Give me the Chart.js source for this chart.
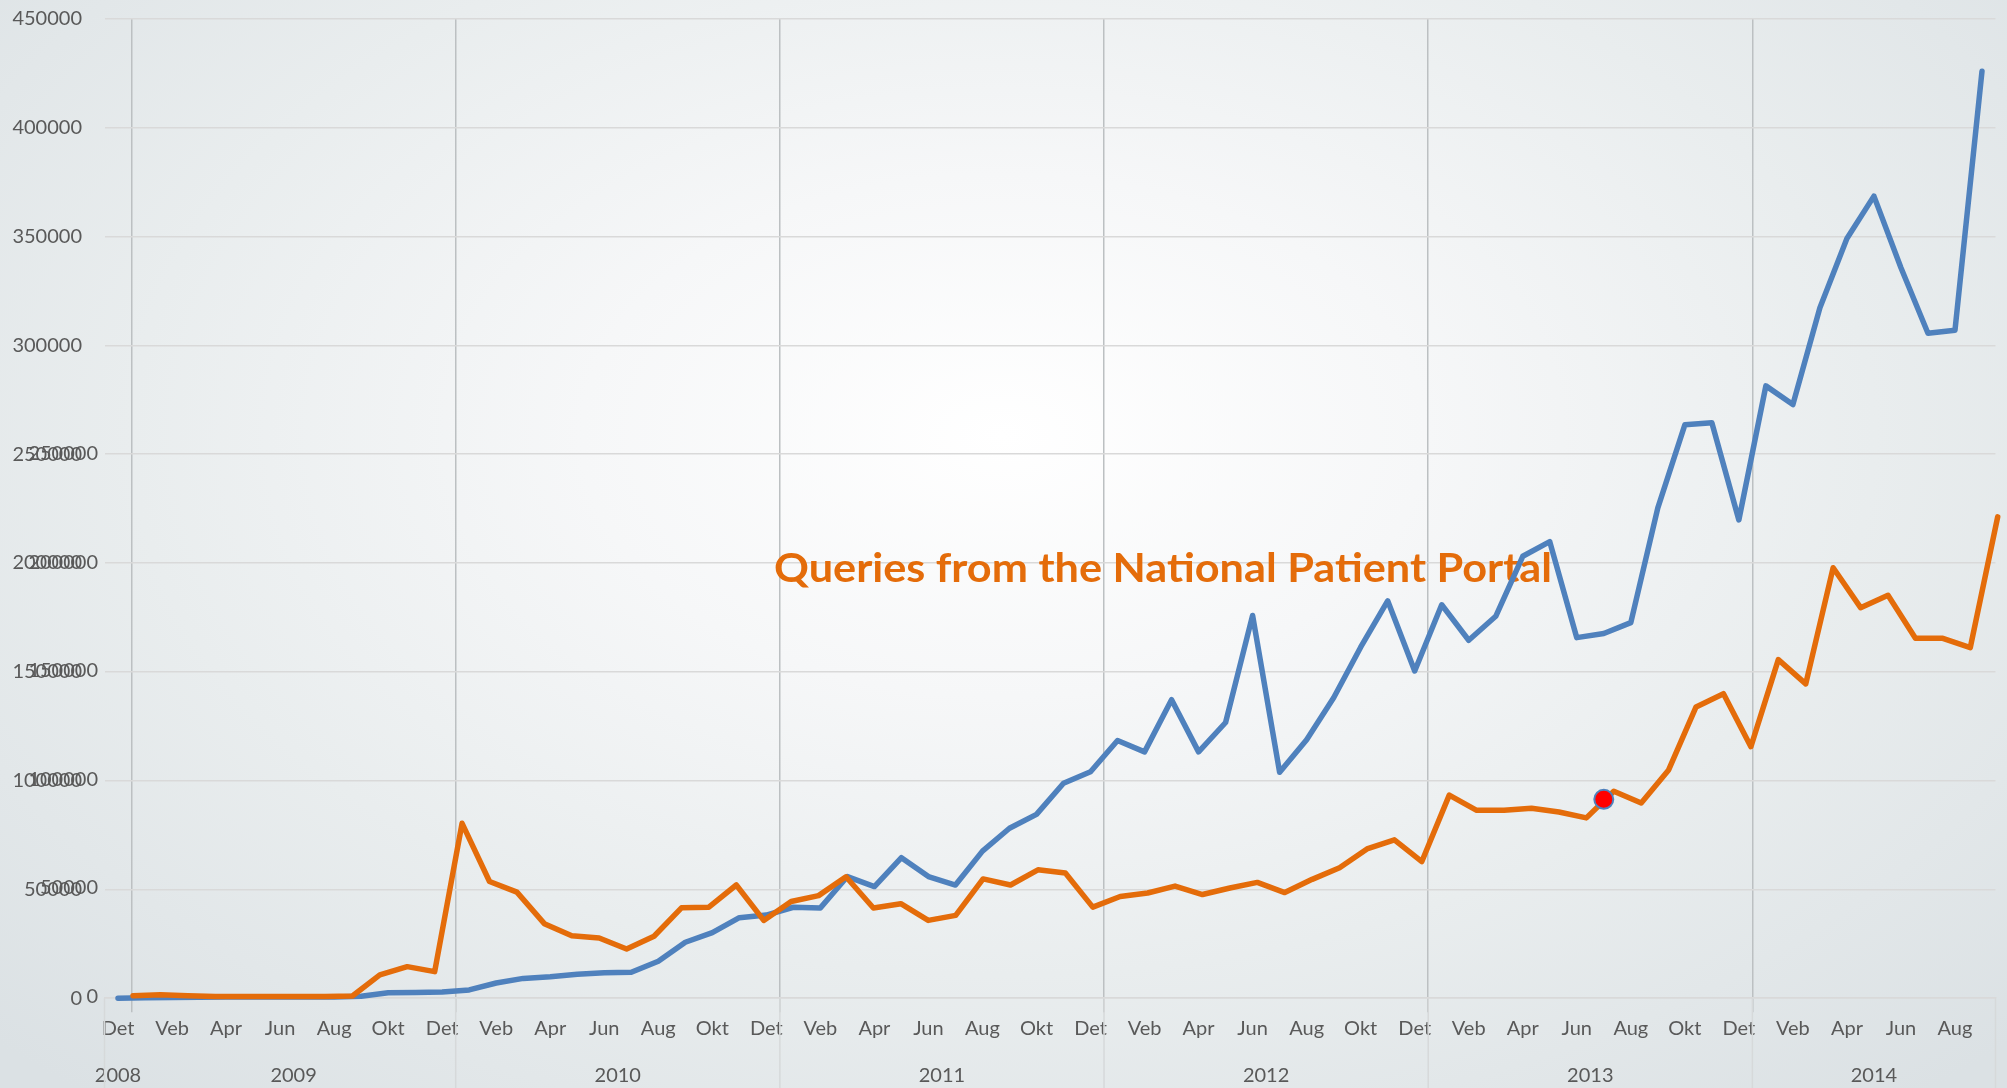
<!DOCTYPE html>
<html>
<head>
<meta charset="utf-8">
<script src="https://cdn.jsdelivr.net/npm/chart.js@4.4.1/dist/chart.umd.min.js"></script>
<style>
  html, body { margin: 0; padding: 0; width: 2007px; height: 1088px; overflow: hidden; }
  body {
    background: radial-gradient(ellipse 70% 80% at 50% 40%, #ffffff 0%, #f6f7f8 30%, #e9edee 62%, #dbe1e4 100%);
  }
  canvas { display: block; }
</style>
</head>
<body>
<canvas id="c" width="2007" height="1088"></canvas>
<script>
// ---------- DATA ----------
const monthCycle = ['Det', '', 'Veb', '', 'Apr', '', 'Jun', '', 'Aug', '', 'Okt', ''];
const categories = Array.from({ length: 70 }, (_, i) => monthCycle[i % 12]); // Dec 2008 .. Sep 2014
const years = ['2008', '2009', '2010', '2011', '2012', '2013', '2014'];
const monthsInYear = [1, 12, 12, 12, 12, 12, 9];

// blue series (70 months, Dec 2008 .. Sep 2014)
const totalQueries = [
  0, 200, 300, 400, 500, 500, 600, 500, 600, 900,
  2500, 2600, 2800, 3800, 7000, 9100, 9900, 11000, 11700, 11900,
  17000, 25700, 30100, 37000, 38200, 41800, 41500, 55900, 51300, 64600,
  55900, 52000, 67600, 78100, 84500, 98800, 104100, 118400, 113200, 137200,
  113200, 126700, 175900, 103800, 118800, 138100, 161300, 182600, 150400, 180800,
  164500, 175500, 203100, 209800, 165700, 167600, 172600, 225300, 263500, 264500,
  219800, 281400, 272800, 317300, 349100, 368600, 335700, 305600, 307000, 426000
];

// orange series (69 points, separate overlaid chart)
const portalQueries = [
  300, 800, 300, 0, 0, 0, 0, 0, 200, 9900,
  13700, 11400, 79700, 52900, 48000, 33500, 27900, 26900, 21800, 27700,
  40800, 41100, 51300, 35000, 43700, 46400, 55100, 40700, 42700, 35000,
  37300, 54100, 51300, 58300, 56800, 41100, 46000, 47600, 50800, 46900,
  49900, 52500, 47800, 53900, 59200, 67900, 72100, 62100, 92700, 85700,
  85700, 86600, 84900, 82200, 94500, 89100, 104300, 133300, 139400, 115000,
  155100, 143900, 197400, 179000, 184700, 164900, 164900, 160600, 220800
];

// highlighted point
const markerIndex = 55;
const markerValue = 91400;

const yTickValues = [0, 50000, 100000, 150000, 200000, 250000, 300000, 350000, 400000, 450000];
const y2TickValues = [0, 50000, 100000, 150000, 200000, 250000];
const titleText = 'Queries from the National Patient Portal';

// ---------- derived tables ----------
const yearStarts = [];
let acc = 0;
monthsInYear.forEach(n => { yearStarts.push(acc); acc += n; });
const yearCenters = monthsInYear.map((n, k) => yearStarts[k] + (n - 1) / 2);
const yearGridIdx = yearStarts.slice(1);
const yearBounds = [-0.5].concat(yearStarts.slice(2).map(s => s - 0.5), [acc - 0.5]);
const orangeData = portalQueries.map((v, i) => ({ x: i, y: v }));
const markerData = categories.map((_, i) => (i === markerIndex ? markerValue : null));

const textColor = '#595959';
const tickFont = { family: 'Lato', size: 20 };

const decor = {
  id: 'decor',
  beforeDatasetsDraw(chart) {
    const ctx = chart.ctx;
    ctx.save();
    ctx.font = 'bold 41px Lato';
    const w = ctx.measureText(titleText).width;
    ctx.translate(1163, 582);
    ctx.scale(778 / w, 1);
    ctx.fillStyle = '#e46c0a';
    ctx.textAlign = 'center';
    ctx.textBaseline = 'alphabetic';
    ctx.fillText(titleText, 0, 0);
    ctx.restore();
  },
  afterDraw(chart) {
    const ctx = chart.ctx;
    const xs = chart.scales.xYear;
    const top = chart.chartArea.bottom;
    ctx.save();
    ctx.strokeStyle = '#d6d9da';
    ctx.lineWidth = 1.5;
    yearBounds.forEach(b => {
      const px = xs.getPixelForValue(b);
      ctx.beginPath();
      ctx.moveTo(px, top);
      ctx.lineTo(px, chart.height);
      ctx.stroke();
    });
    // labels of the second (overlaid) value axis
    const y2 = chart.scales.y2;
    ctx.fillStyle = textColor;
    ctx.font = '20px Lato';
    ctx.textAlign = 'right';
    ctx.textBaseline = 'middle';
    y2TickValues.forEach(v => {
      ctx.fillText(String(v), chart.chartArea.left - 6.5, y2.getPixelForValue(v));
    });
    ctx.restore();
  }
};

function draw() {
  new Chart(document.getElementById('c'), {
    type: 'line',
    data: {
      labels: categories,
      datasets: [
        {
          label: 'Marker', data: markerData, xAxisID: 'x', yAxisID: 'y',
          showLine: false, pointRadius: 9.5, pointBackgroundColor: '#ff0000',
          pointBorderColor: '#4f81bd', pointBorderWidth: 2, order: 0
        },
        {
          label: 'Patient portal', data: orangeData, xAxisID: 'xo', yAxisID: 'y2',
          borderColor: '#e46c0a', backgroundColor: '#e46c0a', borderWidth: 5.5,
          pointRadius: 0, tension: 0, borderJoinStyle: 'round', borderCapStyle: 'round',
          clip: 10, order: 1
        },
        {
          label: 'Total', data: totalQueries, xAxisID: 'x', yAxisID: 'y',
          borderColor: '#4f81bd', backgroundColor: '#4f81bd', borderWidth: 5.5,
          pointRadius: 0, tension: 0, borderJoinStyle: 'round', borderCapStyle: 'round',
          clip: 10, order: 2
        }
      ]
    },
    options: {
      responsive: false,
      animation: false,
      devicePixelRatio: 1,
      layout: { padding: { left: 0, right: 9, top: 19, bottom: 0 } },
      plugins: { legend: { display: false }, tooltip: { enabled: false }, title: { display: false } },
      scales: {
        x: {
          type: 'category', position: 'bottom', weight: 0, offset: true,
          grid: {
            offset: true, drawTicks: true, tickLength: 14, lineWidth: 1.5,
            color: c => (yearGridIdx.includes(c.index) ? '#bcc0c2' : 'rgba(0,0,0,0)')
          },
          border: { display: true, color: '#d9d9d9', width: 1.5 },
          ticks: {
            autoSkip: false, maxRotation: 0, padding: 4, color: textColor, font: tickFont,
            callback: (v, i) => categories[i]
          },
          afterFit: s => { s.height = 42.2; }
        },
        xYear: {
          type: 'linear', position: 'bottom', weight: 1, min: -0.5, max: 69.5, bounds: 'data',
          grid: { display: false }, border: { display: false },
          afterBuildTicks: s => { s.ticks = yearCenters.map(v => ({ value: v })); },
          ticks: {
            autoSkip: false, maxRotation: 0, padding: 15, color: textColor, font: tickFont,
            callback: (v, i) => years[i]
          },
          afterFit: s => { s.height = 47.6; }
        },
        xo: { type: 'linear', display: false, min: -1.04, max: 67.92, bounds: 'data' },
        y: {
          type: 'linear', position: 'left', weight: 1, min: 0, max: 450000, bounds: 'data',
          afterBuildTicks: s => { s.ticks = yTickValues.map(v => ({ value: v })); },
          grid: { color: '#d9d9d9', lineWidth: 1.5, drawTicks: false },
          border: { display: false },
          ticks: { padding: 6.5, color: textColor, font: tickFont, callback: v => String(v) },
          afterFit: s => { s.width = 88.5; }
        },
        y2: {
          type: 'linear', display: true, position: 'left', weight: 0,
          min: -830, max: 450080, bounds: 'data',
          grid: { display: false }, border: { display: false },
          ticks: { display: false },
          afterFit: s => { s.width = 16; }
        }
      }
    },
    plugins: [decor]
  });
}

if (document.fonts && document.fonts.load) {
  Promise.all([document.fonts.load('20px Lato'), document.fonts.load('bold 41px Lato')])
    .then(draw, draw);
} else {
  draw();
}
</script>
</body>
</html>
